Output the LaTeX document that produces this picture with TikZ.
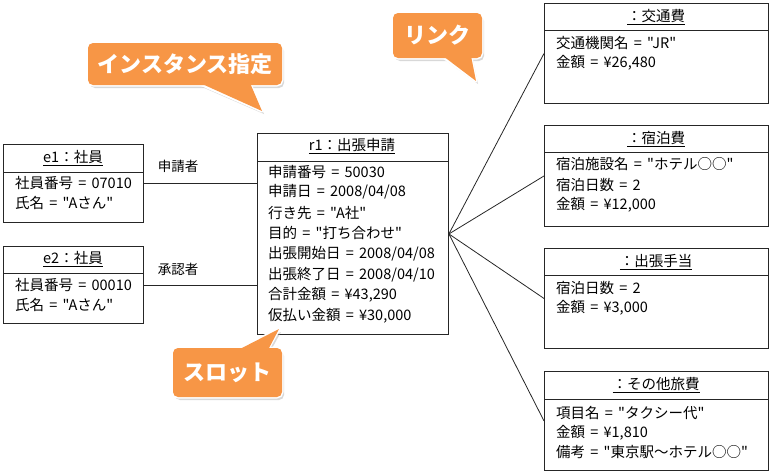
\documentclass[tikz,border=0pt]{standalone}
\usepackage{fontspec}
\setmainfont{Noto Sans CJK JP}[Ligatures=TeXOff, WordSpace=1.6]
\definecolor{callout}{HTML}{F79646}
\tikzset{
  objbox/.style={draw=black!85, line width=0.9pt, anchor=north west, inner sep=0pt, fill=white},
  sepline/.style={draw=black!85, line width=0.9pt},
  row/.style={anchor=west, inner sep=0pt, font=\fontsize{14.5}{16}\selectfont},
  ttl/.style={inner sep=0pt, font=\fontsize{14.5}{16}\selectfont},
  lbl/.style={inner sep=0pt, font=\fontsize{13.5}{16}\selectfont},
  link/.style={draw=black!85, line width=0.8pt},
  calltext/.style={inner sep=0pt, text=white, font=\fontsize{22}{26}\selectfont\bfseries},
  callrim/.style={draw=white, line width=3pt, line join=round},
  callshadow/.style={fill=black!30, draw=none, opacity=0.5}
}
\begin{document}
\begin{tikzpicture}[x=1pt,y=-1pt]
\useasboundingbox (0,0) rectangle (770,474);

% ---------- object boxes ----------
\node[objbox, minimum width=140pt, minimum height=78pt] (e1) at (3,144) {};
\draw[sepline] (e1.west |- 0,172) -- (e1.east |- 0,172);
\node[ttl] (e1t) at (73,158) {\underline{e1：社員}};
\node[row] (e1a) at (15,183) {社員番号 = 07010};
\node[row] (e1b) at (15,203) {氏名 = "Aさん"};

\node[objbox, minimum width=140pt, minimum height=77pt] (e2) at (3,246) {};
\draw[sepline] (e2.west |- 0,273) -- (e2.east |- 0,273);
\node[ttl] (e2t) at (73,259) {\underline{e2：社員}};
\node[row] (e2a) at (15,285) {社員番号 = 00010};
\node[row] (e2b) at (15,305) {氏名 = "Aさん"};

\node[objbox, minimum width=191pt, minimum height=201pt] (r1) at (257,133) {};
\draw[sepline] (r1.west |- 0,161) -- (r1.east |- 0,161);
\node[ttl] (r1t) at (352,146) {\underline{r1：出張申請}};
\node[row] (r1a) at (268,172) {申請番号 = 50030};
\node[row] (r1b) at (268,192) {申請日 = 2008/04/08};
\node[row] (r1c) at (268,213) {行き先 = "A社"};
\node[row] (r1d) at (268,233) {目的 = "打ち合わせ"};
\node[row] (r1e) at (268,254) {出張開始日 = 2008/04/08};
\node[row] (r1f) at (268,275) {出張終了日 = 2008/04/10};
\node[row] (r1g) at (268,295) {合計金額 = ¥43,290};
\node[row] (r1h) at (268,316) {仮払い金額 = ¥30,000};

\node[objbox, minimum width=224pt, minimum height=100pt] (tr) at (544,3) {};
\draw[sepline] (tr.west |- 0,30) -- (tr.east |- 0,30);
\node[ttl] (trt) at (656,17) {\underline{：交通費}};
\node[row] (tra) at (556,43) {交通機関名 = "JR"};
\node[row] (trb) at (556,63) {金額 = ¥26,480};

\node[objbox, minimum width=224pt, minimum height=101pt] (ac) at (544,125) {};
\draw[sepline] (ac.west |- 0,152) -- (ac.east |- 0,152);
\node[ttl] (act) at (656,139) {\underline{：宿泊費}};
\node[row] (aca) at (556,164) {宿泊施設名 = "ホテル○○"};
\node[row] (acb) at (556,185) {宿泊日数 = 2};
\node[row] (acc) at (556,205) {金額 = ¥12,000};

\node[objbox, minimum width=224pt, minimum height=100pt] (al) at (544,248) {};
\draw[sepline] (al.west |- 0,275) -- (al.east |- 0,275);
\node[ttl] (alt) at (656,262) {\underline{：出張手当}};
\node[row] (ala) at (556,288) {宿泊日数 = 2};
\node[row] (alb) at (556,308) {金額 = ¥3,000};

\node[objbox, minimum width=224pt, minimum height=99pt] (ot) at (544,371) {};
\draw[sepline] (ot.west |- 0,399) -- (ot.east |- 0,399);
\node[ttl] (ott) at (656,385) {\underline{：その他旅費}};
\node[row] (ota) at (556,413) {項目名 = "タクシー代"};
\node[row] (otb) at (556,433) {金額 = ¥1,810};
\node[row] (otc) at (556,452) {備考 = "東京駅～ホテル○○"};

% ---------- links ----------
\draw[link] (e1.east) -- (e1.east -| r1.west);
\draw[link] (e2.east) -- (e2.east -| r1.west);
\node[lbl] (l1) at (178,166) {申請者};
\node[lbl] (l2) at (178,269) {承認者};
\draw[link] (r1.east) -- (tr.west);
\draw[link] (r1.east) -- (ac.west);
\draw[link] (r1.east) -- (al.west);
\draw[link] (r1.east) -- (ot.west);

% ---------- callouts ----------
% instance
\begin{scope}[shift={(2,3)}]
  \fill[callshadow, rounded corners=5pt] (88,43) rectangle (282,85);
  \fill[callshadow] (200,84) -- (262,111) -- (250,84) -- cycle;
\end{scope}
\path[callrim, rounded corners=5pt] (88,43) rectangle (282,85);
\path[callrim] (200,84) -- (262,111) -- (250,84);
\fill[callout, rounded corners=5pt] (88,43) rectangle (282,85);
\fill[callout] (200,83) -- (262,111) -- (250,83) -- cycle;
\node[calltext] (c1) at (185,64) {インスタンス指定};

% link
\begin{scope}[shift={(2,3)}]
  \fill[callshadow, rounded corners=5pt] (393,13) rectangle (482,58);
  \fill[callshadow] (443,57) -- (476,81) -- (471,57) -- cycle;
\end{scope}
\path[callrim, rounded corners=5pt] (393,13) rectangle (482,58);
\path[callrim] (443,57) -- (476,81) -- (471,57);
\fill[callout, rounded corners=5pt] (393,13) rectangle (482,58);
\fill[callout] (443,56) -- (476,81) -- (471,56) -- cycle;
\node[calltext] (c2) at (437.5,35.5) {リンク};

% slot
\begin{scope}[shift={(2,3)}]
  \fill[callshadow, rounded corners=5pt] (173,348) rectangle (282,397);
  \fill[callshadow] (238,349) -- (279,329) -- (268,349) -- cycle;
\end{scope}
\path[callrim, rounded corners=5pt] (173,348) rectangle (282,397);
\path[callrim] (238,349) -- (279,329) -- (268,349);
\fill[callout, rounded corners=5pt] (173,348) rectangle (282,397);
\fill[callout] (238,350) -- (279,329) -- (268,350) -- cycle;
\node[calltext] (c3) at (227.5,372.5) {スロット};
\end{tikzpicture}
\end{document}
